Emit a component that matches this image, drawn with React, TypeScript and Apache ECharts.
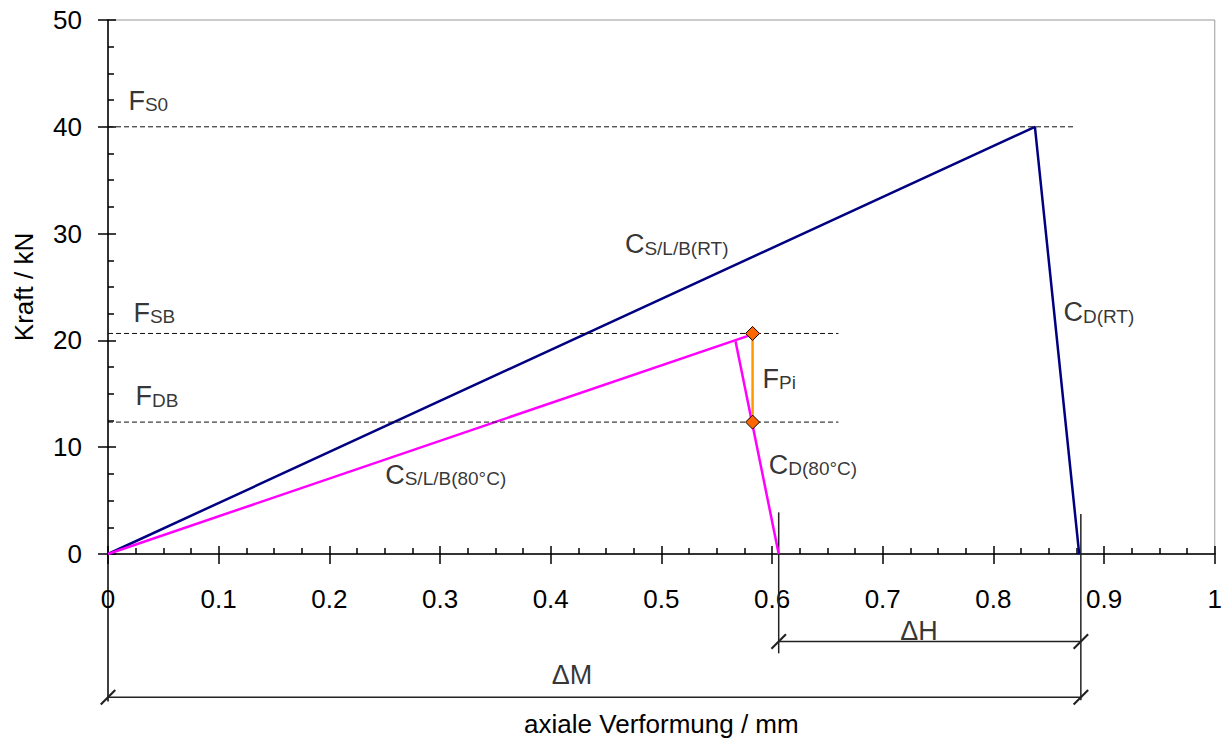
import React, { useEffect, useRef } from "react";
import * as echarts from "echarts";

const FONT = "Liberation Sans, Arial, sans-serif";

// axes
const xRange = [0, 1];
const xStep = 0.1;
const yRange = [0, 50];
const yStep = 10;

// curves (x: mm, y: kN)
const rtCurve = [[0, 0], [0.8375, 40], [0.8775, 0]];
const hotRise = [[0, 0], [0.579, 20.45]];
const hotFall = [[0.567, 19.93], [0.606, 0]];
const fPiLine = [[0.5824, 20.65], [0.5824, 12.35]];

// dashed reference levels
const fS0Line = [[0, 40], [0.873, 40]];
const fSBLine = [[0, 20.65], [0.66, 20.65]];
const fDBLine = [[0, 12.35], [0.66, 12.35]];

// dimension lines (below the axis)
const dimH = [[0.606, -8.19], [0.879, -8.19]];
const dimM = [[0, -13.41], [0.879, -13.41]];
const extH = [[0.606, 3.9], [0.606, -9.3]];
const extM = [[0.879, 3.75], [0.879, -13.7]];
const extAxis = [[0, 0], [0, -13.8]];

// annotation texts: main letter, subscript, anchor (left edge, vertical centre)
const labelTexts = ["F", "C", "C", "F", "F", "F", "C", "C", "ΔH", "ΔM"];
const labelSubs = ["S0", "S/L/B(RT)", "D(RT)", "SB", "DB", "Pi", "D(80°C)", "S/L/B(80°C)", "", ""];
const labelX = [0.018, 0.4666, 0.8628, 0.0225, 0.0244, 0.591, 0.5966, 0.25, 0.7154, 0.4004];
const labelY = [42.6, 29.14, 22.77, 22.72, 14.9, 16.57, 8.52, 7.54, -7.1, -11.2];

const slash = "path://M0,14.5 L14.5,0 L16,1.5 L1.5,16 Z";

export default function App() {
  const ref = useRef<HTMLDivElement>(null);
  useEffect(() => {
    if (!ref.current) return;
    const chart = echarts.init(ref.current, undefined, { renderer: "svg" });
    const black = "#000";
    const tickStyle = { color: black, width: 1.5 };
    const lineSeries = (data: number[][], color: string, width: number, extra: any = {}) => ({
      type: "line",
      data,
      xAxisIndex: 0,
      yAxisIndex: 0,
      symbol: "none",
      clip: false,
      silent: true,
      lineStyle: { color, width },
      ...extra,
    });
    const dashed = (data: number[][]) =>
      lineSeries(data, "#111", 1, { z: 3, lineStyle: { color: "#111", width: 1, type: [5, 3] } });
    const dimension = (data: number[][]) =>
      lineSeries(data, "#222", 1.5, {
        symbol: slash,
        symbolSize: 16,
        showSymbol: true,
        itemStyle: { color: "#222" },
      });

    chart.setOption({
      animation: false,
      grid: { left: 108, right: 9, top: 20, bottom: 185, show: true, borderColor: "#999", borderWidth: 1 },
      xAxis: [
        {
          type: "value",
          min: xRange[0],
          max: xRange[1],
          interval: xStep,
          position: "bottom",
          axisLine: { onZero: false, lineStyle: { color: black, width: 1.5 } },
          axisTick: { show: true, inside: false, length: 10, lineStyle: tickStyle },
          axisLabel: { margin: 32, fontSize: 26, color: black, fontFamily: FONT },
          splitLine: { show: false },
          name: "axiale Verformung / mm",
          nameLocation: "middle",
          nameGap: 157,
          nameTextStyle: { fontSize: 26, color: black, fontFamily: FONT },
        },
        {
          type: "value",
          min: xRange[0],
          max: xRange[1],
          interval: xStep,
          position: "bottom",
          axisLine: { show: false, onZero: false },
          axisTick: { show: true, inside: true, length: 8, lineStyle: tickStyle },
          minorTick: { show: true, splitNumber: 4, length: 6, lineStyle: tickStyle },
          axisLabel: { show: false },
          splitLine: { show: false },
        },
      ],
      yAxis: [
        {
          type: "value",
          min: yRange[0],
          max: yRange[1],
          interval: yStep,
          position: "left",
          axisLine: { show: true, onZero: false, lineStyle: { color: black, width: 1.5 } },
          axisTick: { show: true, inside: false, length: 10, lineStyle: tickStyle },
          axisLabel: { margin: 26, fontSize: 26, color: black, fontFamily: FONT },
          splitLine: { show: false },
          name: "Kraft / kN",
          nameLocation: "middle",
          nameRotate: 90,
          nameGap: 71,
          nameTextStyle: { fontSize: 26, color: black, fontFamily: FONT },
        },
        {
          type: "value",
          min: yRange[0],
          max: yRange[1],
          interval: yStep,
          position: "left",
          axisLine: { show: false, onZero: false },
          axisTick: { show: true, inside: true, length: 8, lineStyle: tickStyle },
          minorTick: { show: true, splitNumber: 4, length: 6, lineStyle: tickStyle },
          axisLabel: { show: false },
          splitLine: { show: false },
        },
      ],
      series: [
        lineSeries(extAxis, black, 1.5),
        lineSeries(extH, "#222", 1.5),
        lineSeries(extM, "#222", 1.5),
        dimension(dimH),
        dimension(dimM),
        lineSeries(rtCurve, "#000080", 2.5),
        lineSeries(hotRise, "#FF00FF", 2.5),
        lineSeries(hotFall, "#FF00FF", 2.5),
        lineSeries(fPiLine, "#FF9900", 2.5, {
          symbol: "diamond",
          symbolSize: 14,
          showSymbol: true,
          itemStyle: { color: "#FF6600", borderColor: "#000", borderWidth: 1 },
        }),
        dashed(fS0Line),
        dashed(fSBLine),
        dashed(fDBLine),
        {
          type: "scatter",
          xAxisIndex: 0,
          yAxisIndex: 0,
          clip: false,
          silent: true,
          symbolSize: 1,
          itemStyle: { color: "transparent" },
          z: 4,
          data: labelTexts.map((t, i) => ({
            value: [labelX[i], labelY[i]],
            label: {
              formatter: labelSubs[i] ? `{m|${t}}{s|${labelSubs[i]}}` : `{m|${t}}`,
            },
          })),
          label: {
            show: true,
            position: "right",
            distance: 0,
            color: black,
            rich: {
              m: { fontSize: 27, lineHeight: 30, fontFamily: FONT, color: black, verticalAlign: "bottom" },
              s: { fontSize: 19, lineHeight: 16, fontFamily: FONT, color: black, verticalAlign: "bottom" },
            },
          },
        },
      ],
    });
    return () => chart.dispose();
  }, []);
  return (
    <div
      ref={ref}
      style={{ position: "fixed", left: 0, top: 0, width: 1225, height: 742, background: "#fff" }}
    />
  );
}
